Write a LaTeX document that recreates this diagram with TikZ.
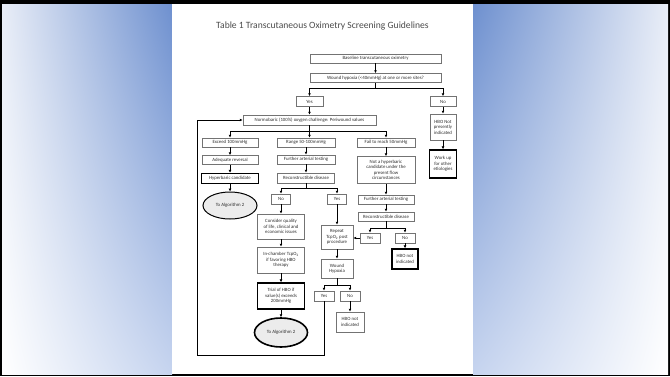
\documentclass[tikz,border=0pt]{standalone}
\usepackage{fontspec}
\setmainfont{Carlito}
\usetikzlibrary{shapes.geometric,arrows.meta,shadings}
\definecolor{bgblue}{RGB}{110,144,207}
\definecolor{bgpale}{RGB}{198,212,239}
\definecolor{bgtl}{RGB}{232,237,247}
\definecolor{txtgray}{RGB}{45,45,45}
\definecolor{boxgray}{RGB}{115,115,115}
\tikzset{
  box/.style={draw=boxgray, line width=0.8pt, fill=white, inner sep=0.4pt, align=center,
    font=\fontsize{4.8}{5.5}\selectfont, text=txtgray, minimum height=9pt},
  heavy/.style={box, draw=black, line width=1.5pt},
  algo/.style={ellipse, draw=black, line width=1pt, fill=gray!15, inner sep=0pt,
    font=\fontsize{4.8}{5.5}\selectfont, text=txtgray},
  arr/.style={-{Latex[length=2.8pt,width=2.8pt]}, line width=0.8pt},
  ln/.style={line width=0.8pt}
}
\begin{document}
\begin{tikzpicture}[x=1pt,y=-1pt]
\useasboundingbox (0,0) rectangle (670,376);
\fill[black] (0,0) rectangle (670,376);
\fill[white] (2,4) rectangle (668,374);
\shade[upper left=bgtl, upper right=bgblue, lower left=white, lower right=bgpale] (2,4) rectangle (172,374);
\shade[upper left=bgblue, upper right=bgtl, lower left=bgpale, lower right=white] (473,4) rectangle (668,374);
\fill[white] (172,4) rectangle (473,374);

\node[text=txtgray!85, font=\fontsize{9.6}{11}\selectfont] (ttl) at (322.5,26) {Table 1 Transcutaneous Oximetry Screening Guidelines};

\node[box, minimum width=131pt] (base) at (375.5,58.5) {Baseline transcutaneous oximetry};
\node[box, minimum width=131pt] (hyp) at (375.5,78) {Wound hypoxia (<40mmHg) at one or more sites?};
\node[box, minimum width=27pt, minimum height=10pt] (yesA) at (309.5,101.5) {Yes};
\node[box, minimum width=26pt, minimum height=10pt] (noA) at (443,101.5) {No};
\node[box, minimum width=133pt, minimum height=10pt] (normo) at (309.5,120) {Normobaric (100\%) oxygen challenge: Periwound values};
\node[box, minimum width=26pt, minimum height=26pt] (hbonp) at (443,127) {HBO Not\\presently\\indicated};
\node[heavy, minimum width=27pt, minimum height=28pt] (workup) at (443,164) {Work up\\for other\\etiologies};

\node[box, minimum width=56pt] (exceed) at (230,142.5) {Exceed 100mmHg};
\node[box, minimum width=56pt] (adeq) at (230,160) {Adequate reversal};
\node[heavy, minimum width=57pt, minimum height=10pt] (hbcand) at (230,178.5) {Hyperbaric candidate};
\node[algo, minimum width=54pt, minimum height=27pt] (algA) at (230,205.5) {To Algorithm 2};

\node[box, minimum width=58pt] (range) at (306,142.5) {Range 50-100mmHg};
\node[box, minimum width=58pt] (furthA) at (306,159.5) {Further arterial testing};
\node[box, minimum width=57pt, minimum height=10pt] (reconA) at (306,178) {Reconstructible disease};
\node[box, minimum width=19pt, minimum height=10pt] (noB) at (281,199) {No};
\node[box, minimum width=19pt, minimum height=10pt] (yesB) at (337,199) {Yes};
\node[box, minimum width=47pt, minimum height=25pt] (qual) at (281,226.5) {Consider quality\\of life, clinical and\\economic issues};
\node[box, minimum width=47pt, minimum height=26pt] (inch) at (281,260) {In-chamber TcpO\textsubscript{2}\\if favoring HBO\\therapy};
\node[heavy, minimum width=47pt, minimum height=26pt] (trial) at (281,296) {Trial of HBO if\\value(s) exceeds\\200mmHg};
\node[algo, line width=1.6pt, minimum width=53pt, minimum height=29pt] (algB) at (281,332.5) {To Algorithm 2};
\node[box, minimum width=32pt, minimum height=24pt] (repeat) at (337,237) {Repeat\\TcpO\textsubscript{2} post\\procedure};
\node[box, minimum width=32pt, minimum height=19pt] (whyp) at (337,268.5) {Wound\\Hypoxia};
\node[box, minimum width=20pt, minimum height=10pt] (yesC) at (324,296) {Yes};
\node[box, minimum width=20pt, minimum height=10pt] (noC) at (350,296) {No};
\node[box, minimum width=28pt, minimum height=20pt] (hbonA) at (350,322) {HBO not\\indicated};

\node[box, minimum width=58pt] (fail) at (386,142.5) {Fail to reach 50mmHg};
\node[box, minimum width=58pt, minimum height=27pt] (notc) at (386,170) {Not a hyperbaric\\candidate under the\\present flow\\circumstances};
\node[box, minimum width=56pt] (furthB) at (386,199.5) {Further arterial testing};
\node[box, minimum width=56pt] (reconB) at (386,216.5) {Reconstructible disease};
\node[box, minimum width=20pt, minimum height=10pt] (yesD) at (370,238) {Yes};
\node[box, minimum width=20pt, minimum height=10pt] (noD) at (405,238) {No};
\node[heavy, minimum width=26pt, minimum height=20pt] (hbonB) at (405,259) {HBO not\\indicated};

\draw[arr] (base) -- (hyp);
\draw[ln] (hyp.south) -- ++(0,5) coordinate (bA);
\draw[arr] (bA) -| (yesA);
\draw[arr] (bA) -| (noA);
\draw[arr] (yesA) -- (normo);
\draw[arr] (noA) -- (hbonp);
\draw[arr] (hbonp) -- (workup);

\draw[ln] (normo.south) -- ++(0,6) coordinate (bB);
\draw[arr] (bB) -| (exceed);
\draw[arr] (bB) -- (bB |- range.north);
\draw[arr] (bB) -| (fail);

\draw[arr] (exceed) -- (adeq);
\draw[arr] (adeq) -- (hbcand);
\draw[arr] (hbcand) -- (algA);

\draw[arr] (range) -- (furthA);
\draw[arr] (furthA) -- (reconA);
\draw[ln] (reconA.south) -- ++(0,5) coordinate (bC);
\draw[arr] (bC) -| (noB);
\draw[arr] (bC) -| (yesB);
\draw[arr] (noB) -- (qual);
\draw[arr] (qual) -- (inch);
\draw[arr] (inch) -- (trial);
\draw[arr] (trial) -- (algB);
\draw[arr] (yesB) -- (repeat);
\draw[arr] (repeat) -- (whyp);
\draw[ln] (whyp.south) -- ++(0,7) coordinate (bD);
\draw[arr] (bD) -| (yesC);
\draw[arr] (bD) -| (noC);
\draw[arr] (noC) -- (hbonA);
\coordinate (lp) at (197,355);
\draw[arr] (yesC.south) |- (lp) |- (normo.west);

\draw[arr] (fail) -- (notc);
\draw[arr] (notc) -- (furthB);
\draw[arr] (furthB) -- (reconB);
\draw[ln] (reconB.south) -- ++(0,7) coordinate (bE);
\draw[arr] (bE) -| (yesD);
\draw[arr] (bE) -| (noD);
\draw[arr] (yesD.west) -- (yesD.west -| repeat.east);
\draw[arr] (noD) -- (hbonB);
\end{tikzpicture}
\end{document}
